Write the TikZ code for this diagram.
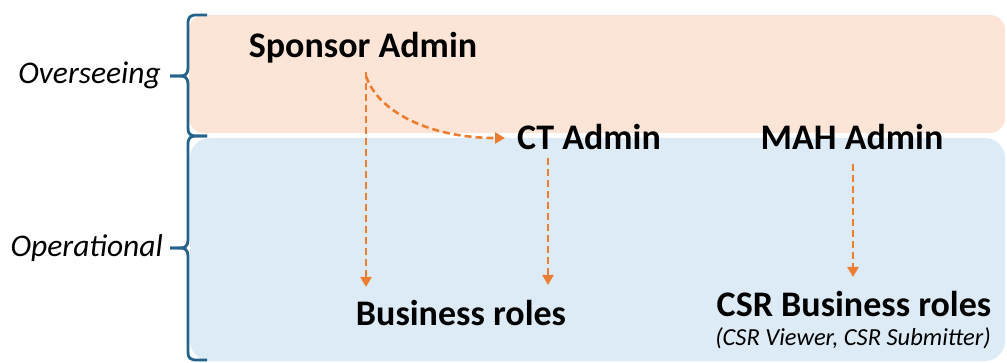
\documentclass[tikz,border=0pt]{standalone}
\usepackage{fontspec}
\setmainfont{Carlito}
\usetikzlibrary{arrows.meta}
\definecolor{peach}{RGB}{252,228,214}
\definecolor{lblue}{RGB}{221,235,247}
\definecolor{orng}{RGB}{237,125,49}
\definecolor{brc}{RGB}{36,98,140}
\tikzset{
  arr/.style={draw=orng, line width=2.6pt, dash pattern=on 7pt off 4pt, -{Triangle[width=11pt,length=10pt]}},
  lbl/.style={font=\bfseries\fontsize{36}{40}\selectfont, inner sep=0pt},
  side/.style={font=\itshape\fontsize{31.5}{34}\selectfont, inner sep=0pt, anchor=east},
  sub/.style={font=\itshape\fontsize{24.5}{28}\selectfont, inner sep=0pt},
  brace/.style={draw=brc, line width=2.8pt}
}
\begin{document}
\begin{tikzpicture}[x=1pt,y=-1pt]
\useasboundingbox (0,0) rectangle (1007,363);
% bands
\fill[peach, rounded corners=15pt] (189,15) rectangle (1005,133);
\fill[lblue, rounded corners=20pt] (190,138) rectangle (1005,361);
% braces
\draw[brace] (207,15) -- (197,15) .. controls (190,15) and (188,17) .. (188,24) -- (188,68)
  .. controls (188,74) and (185,76) .. (180,76) -- (170,76);
\draw[brace] (170,76) -- (180,76) .. controls (185,76) and (188,78) .. (188,84) -- (188,128)
  .. controls (188,134) and (190,136) .. (197,136) -- (207,136);
\draw[brace] (207,136) -- (197,136) .. controls (190,136) and (188,138) .. (188,145) -- (188,240)
  .. controls (188,246) and (185,248) .. (180,248) -- (170,248);
\draw[brace] (170,248) -- (180,248) .. controls (185,248) and (188,250) .. (188,256) -- (188,352)
  .. controls (188,358) and (190,360) .. (197,360) -- (207,360);
% side labels
\node[side] (over) at (161,75) {Overseeing};
\node[side] (oper) at (163,248) {Operational};
% nodes
\node[lbl] (sa) at (363,48) {Sponsor Admin};
\node[lbl] (ct) at (589,137) {CT Admin};
\node[lbl] (mah) at (852,137) {MAH Admin};
\node[lbl] (br) at (461,313) {Business roles};
\node[lbl] (csr) at (854,304) {CSR Business roles};
\node[sub] (csrsub) at (853,338) {(CSR Viewer, CSR Submitter)};
% connector end points
\coordinate (saA) at (366,72);
\coordinate (saB) at (366,76);
\coordinate (brA) at (366,287);
\coordinate (ctIn) at (505,138);
\coordinate (ctA) at (548,158);
\coordinate (brB) at (548,285);
\coordinate (mahA) at (853,164);
\coordinate (csrA) at (853,277);
% connectors
\draw[arr] (saA) -- (brA);
\draw[arr] (saB) .. controls (378,112) and (430,138) .. (ctIn);
\draw[arr] (ctA) -- (brB);
\draw[arr] (mahA) -- (csrA);
\end{tikzpicture}
\end{document}
